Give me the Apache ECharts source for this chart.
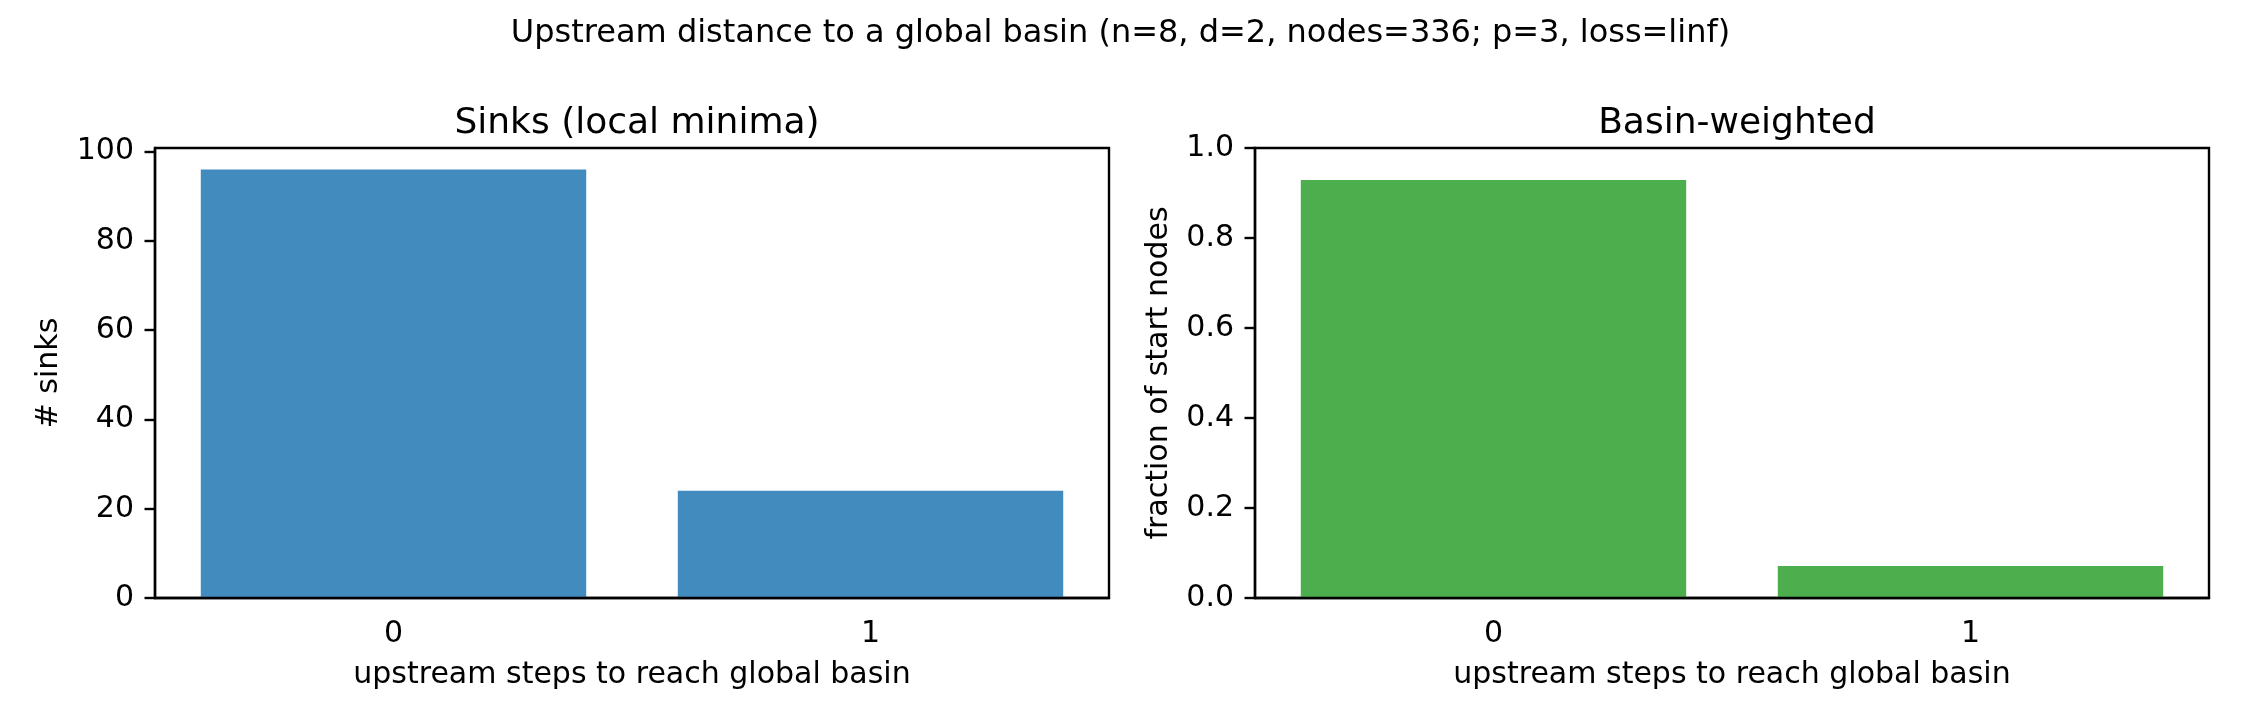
<!DOCTYPE html>
<html>
<head>
<meta charset="utf-8">
<script src="https://cdn.jsdelivr.net/npm/echarts@6/dist/echarts.min.js"></script>
<style>
  html, body { margin: 0; padding: 0; background: #fff; }
  #chart { width: 2241px; height: 726px; }
</style>
</head>
<body>
<div id="chart"></div>
<script>
const steps = ['0', '1']
const sinkCounts = [96, 24]
const basinFractions = [0.929, 0.071]
const sinkTicks = [0, 20, 40, 60, 80, 100]
const fractionTicks = [0, 0.2, 0.4, 0.6, 0.8, 1.0]

const FONT = 'DejaVu Sans'
const BLUE = '#418bbf'
const GREEN = '#4cae4c'

const chart = echarts.init(document.getElementById('chart'))

function xAxisFor(gridIndex) {
  return {
    type: 'category',
    gridIndex,
    data: steps,
    z: 10,
    axisLine: { lineStyle: { color: '#000', width: 2.4 } },
    axisTick: { alignWithLabel: true, length: 10.5, lineStyle: { color: '#000', width: 2.4 } },
    axisLabel: { color: '#000', fontFamily: FONT, fontSize: 30, margin: 21 },
    name: 'upstream steps to reach global basin',
    nameLocation: 'middle',
    nameGap: 62,
    nameTextStyle: { color: '#000', fontFamily: FONT, fontSize: 30 }
  }
}

function yAxisFor(gridIndex, max, ticks, name, nameGap, fmt) {
  return {
    type: 'value',
    gridIndex,
    min: 0,
    max,
    z: 10,
    splitLine: { show: false },
    axisLine: { show: true, lineStyle: { color: '#000', width: 2.4 } },
    axisTick: { show: true, length: 10.5, customValues: ticks, lineStyle: { color: '#000', width: 2.4 } },
    axisLabel: { color: '#000', fontFamily: FONT, fontSize: 30, margin: 21, customValues: ticks, formatter: fmt },
    name,
    nameLocation: 'middle',
    nameGap,
    nameRotate: 90,
    nameTextStyle: { color: '#000', fontFamily: FONT, fontSize: 30 }
  }
}

const option = {
  animation: false,
  backgroundColor: '#fff',
  title: [
    {
      text: 'Upstream distance to a global basin (n=8, d=2, nodes=336; p=3, loss=linf)',
      left: 'center',
      top: 13,
      textStyle: { color: '#000', fontFamily: FONT, fontSize: 32, fontWeight: 'normal' }
    },
    {
      text: 'Sinks (local minima)',
      left: 632,
      textAlign: 'center',
      top: 101,
      textStyle: { color: '#000', fontFamily: FONT, fontSize: 36, fontWeight: 'normal' }
    },
    {
      text: 'Basin-weighted',
      left: 1732,
      textAlign: 'center',
      top: 101,
      textStyle: { color: '#000', fontFamily: FONT, fontSize: 36, fontWeight: 'normal' }
    }
  ],
  grid: [
    { left: 155, top: 148, width: 954, height: 450, show: true, borderColor: '#000', borderWidth: 2.4, backgroundColor: 'transparent' },
    { left: 1255, top: 148, width: 954, height: 450, show: true, borderColor: '#000', borderWidth: 2.4, backgroundColor: 'transparent' }
  ],
  xAxis: [xAxisFor(0), xAxisFor(1)],
  yAxis: [
    yAxisFor(0, 100.8, sinkTicks, '# sinks', 91, v => String(v)),
    yAxisFor(1, 1, fractionTicks, 'fraction of start nodes', 81, v => v.toFixed(1))
  ],
  series: [
    {
      type: 'bar',
      xAxisIndex: 0,
      yAxisIndex: 0,
      data: sinkCounts,
      barWidth: '80.8%',
      itemStyle: { color: BLUE }
    },
    {
      type: 'bar',
      xAxisIndex: 1,
      yAxisIndex: 1,
      data: basinFractions,
      barWidth: '80.8%',
      itemStyle: { color: GREEN }
    }
  ]
}

chart.setOption(option)
</script>
</body>
</html>
